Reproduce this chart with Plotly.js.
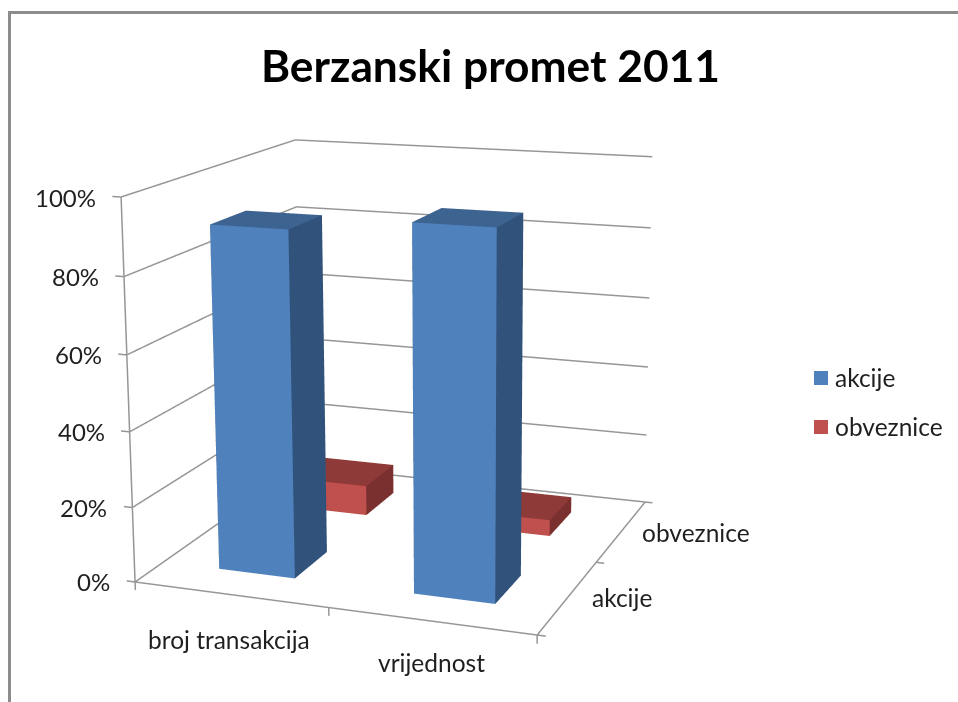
<!DOCTYPE html>
<html><head><meta charset="utf-8">
<script src="https://cdn.plot.ly/plotly-3.0.1.min.js"></script>
<style>
html,body{margin:0;padding:0;background:#fff;overflow:hidden;width:958px;height:702px}
#wrap{position:absolute;left:0;top:0;width:958px;height:702px;overflow:hidden}
#chart{position:absolute;left:-417px;top:-540px;width:1666px;height:1666px}
</style></head><body>
<div id="wrap"><div id="chart"></div></div>
<script>
// ---- data ----
const categories = ['broj transakcija', 'vrijednost'];
const seriesNames = ['akcije', 'obveznice'];
const akcije = [91.3, 95];
const obveznice = [8.5, 4.5];
const zTicks = [0, 20, 40, 60, 80, 100];
const zTickLabels = ['0%', '20%', '40%', '60%', '80%', '100%'];
const titleText = 'Berzanski promet 2011';
const frontColors = ['#4f81bd', '#c0504d'];
const topColors = ['#3d6391', '#8e3a38'];
const sideColors = ['#31527b', '#7a302e'];
const gridColor = '#969696';
const textColor = '#1f1f1f';
const FONT = 'Lato, Carlito, sans-serif';

// page pixel -> paper coordinates of the oversized plot
const W = 1666, OX = -417, OY = -540;
const px = x => (x - OX) / W;
const py = y => 1 - (y - OY) / W;

const HALF = 0.2;
const barNudge = [[0, 0.008], [-0.025, -0.025]];
function cuboids(values, seriesIdx) {
  const X = [], Y = [], Z = [], I = [], J = [], K = [], fc = [];
  values.forEach((v, c) => {
    const b = X.length;
    const cx = c + 0.5 + barNudge[seriesIdx][c];
    const x0 = cx - HALF, x1 = cx + HALF;
    const y0 = seriesIdx + 0.5 - HALF, y1 = seriesIdx + 0.5 + HALF;
    [[x0,y0,0],[x1,y0,0],[x1,y1,0],[x0,y1,0],[x0,y0,v],[x1,y0,v],[x1,y1,v],[x0,y1,v]].forEach(p => {
      X.push(p[0]); Y.push(p[1]); Z.push(p[2]);
    });
    const quad = (a, bb, cc, d, col) => {
      I.push(b+a, b+a); J.push(b+bb, b+cc); K.push(b+cc, b+d); fc.push(col, col);
    };
    quad(0,1,5,4, frontColors[seriesIdx]);
    quad(4,5,6,7, topColors[seriesIdx]);
    quad(1,2,6,5, sideColors[seriesIdx]);
    quad(0,3,7,4, sideColors[seriesIdx]);
    quad(3,2,6,7, sideColors[seriesIdx]);
  });
  return {
    type: 'mesh3d', name: seriesNames[seriesIdx], x: X, y: Y, z: Z, i: I, j: J, k: K,
    facecolor: fc, flatshading: true, hoverinfo: 'skip', showscale: false,
    lighting: {ambient: 1, diffuse: 0, specular: 0, fresnel: 0, roughness: 1},
    lightposition: {x: 0, y: 0, z: 1000}
  };
}

const lineX = [], lineY = [], lineZ = [];
function seg(pts) {
  pts.forEach(p => { lineX.push(p[0]); lineY.push(p[1]); lineZ.push(p[2]); });
  lineX.push(null); lineY.push(null); lineZ.push(null);
}
const nCat = categories.length, nSer = seriesNames.length, zMax = zTicks[zTicks.length - 1];
zTicks.forEach(t => {
  seg([[0,0,t],[0,nSer,t],[nCat,nSer,t]]);
  seg([[-0.045,0,t],[0,0,t]]);
});
seg([[0,0,0],[0,0,zMax]]);
seg([[0,0,0],[nCat,0,0]]);
seg([[nCat,0,0],[nCat,nSer,0]]);
for (let c = 0; c <= nCat; c++) seg([[c,0,0],[c,0,-2.2]]);
for (let s = 0; s <= nSer; s++) seg([[nCat,s,0],[nCat+0.04,s,0]]);

const traces = [
  cuboids(akcije, 0),
  cuboids(obveznice, 1),
  {type: 'scatter3d', mode: 'lines', x: lineX, y: lineY, z: lineZ, connectgaps: false,
   line: {color: gridColor, width: 3}, hoverinfo: 'skip', showlegend: false}
];

const off = {showgrid:false, zeroline:false, showline:false, showticklabels:false, showbackground:false,
  showspikes:false, ticks:'', title:{text:''}, autorange:false};
const lab = {showarrow:false, font:{family:FONT, size:24.5, color:textColor}};

const catShift = [[-1, -45], [0, -41]];
const serShift = [[22, -1], [18, -2]];
const sceneAnn = [];
zTicks.forEach((t,i) => sceneAnn.push(Object.assign({x:0,y:0,z:t,text:zTickLabels[i],xanchor:'right',yanchor:'middle',xshift:-23,yshift:0},lab,{font:{family:FONT,size:24,color:textColor}})));
categories.forEach((c,i) => sceneAnn.push(Object.assign({x:i+0.5,y:0,z:0,text:c,xanchor:'center',yanchor:'middle',xshift:catShift[i][0],yshift:catShift[i][1]},lab)));
seriesNames.forEach((s,i) => sceneAnn.push(Object.assign({x:nCat,y:i+0.5,z:0,text:s,xanchor:'left',yanchor:'middle',xshift:serShift[i][0],yshift:serShift[i][1]},lab)));

const annotations = [
  {xref:'paper',yref:'paper',x:px(490),y:py(64),text:'<b>'+titleText+'</b>',showarrow:false,xanchor:'center',yanchor:'middle',
   font:{family:FONT,size:44.3,color:'#000'}},
];
const legendY = [378, 427];
const shapes = [
  {type:'line',xref:'paper',yref:'paper',x0:px(9.5),x1:px(9.5),y0:py(11),y1:py(702),line:{color:'#8c8c8c',width:3}},
  {type:'line',xref:'paper',yref:'paper',x0:px(8),x1:px(958),y0:py(12.5),y1:py(12.5),line:{color:'#8c8c8c',width:3}},
];
seriesNames.forEach((s,i) => {
  annotations.push({xref:'paper',yref:'paper',x:px(833),y:py(legendY[i]),text:s,showarrow:false,xanchor:'left',yanchor:'middle',
    font:{family:FONT,size:24.5,color:textColor}});
  shapes.push({type:'rect',xref:'paper',yref:'paper',x0:px(814),x1:px(828),y0:py(legendY[i]-7),y1:py(legendY[i]+7),
    fillcolor:frontColors[i],line:{width:0}});
});

const layout = {
  width: W, height: W, margin:{l:0,r:0,t:0,b:0,pad:0}, paper_bgcolor:'#fff', showlegend:false, hovermode:false, dragmode:false,
  annotations, shapes,
  scene:{
    domain:{x:[0,1],y:[0,1]},
    aspectmode:'manual', aspectratio:{x:1.0008,y:0.996,z:0.9307},
    camera:{eye:{x:1.4206,y:-3.7739,z:1.0209},center:{x:0.0147,y:0.0373,z:0.1379},up:{x:-0.069,y:0.201,z:0.9772},projection:{type:'perspective'}},
    xaxis:Object.assign({range:[-0.2,2.2]},off),
    yaxis:Object.assign({range:[-0.2,2.2]},off),
    zaxis:Object.assign({range:[-10,110]},off),
    annotations:sceneAnn,
    bgcolor:'rgba(0,0,0,0)'
  }
};
Plotly.newPlot('chart', traces, layout, {displayModeBar:false, staticPlot:false, responsive:false});
</script></body></html>
